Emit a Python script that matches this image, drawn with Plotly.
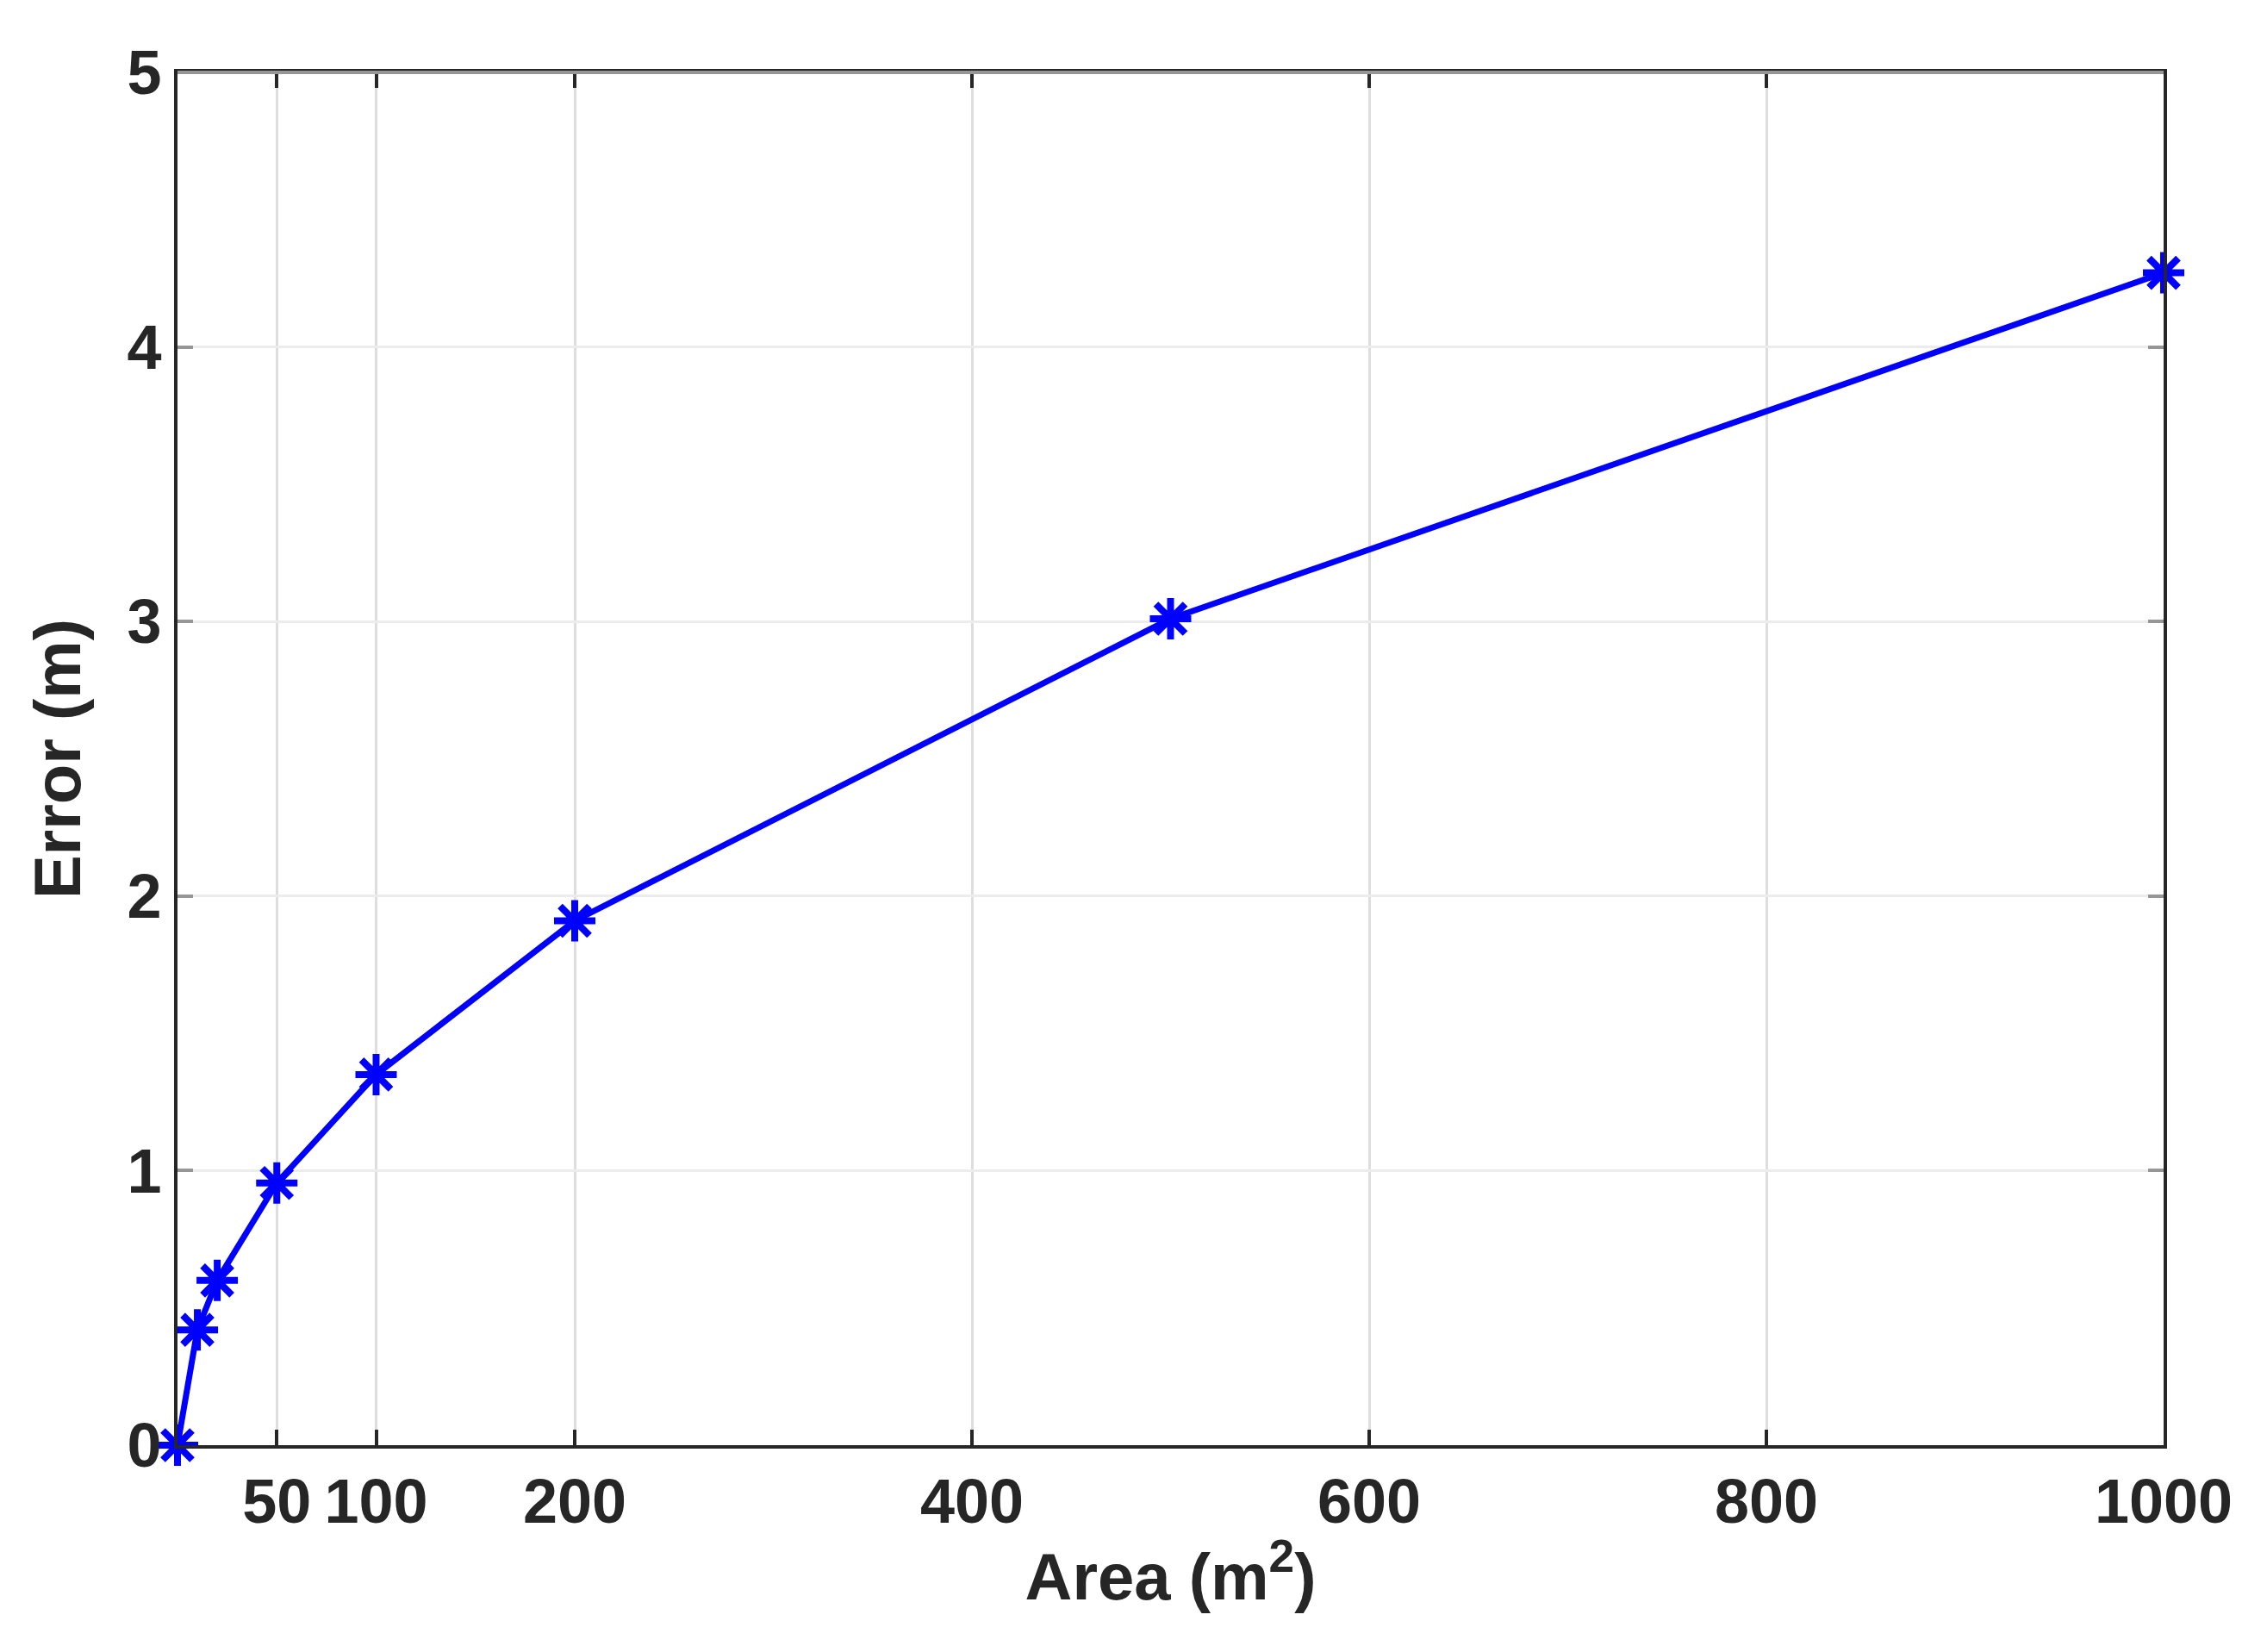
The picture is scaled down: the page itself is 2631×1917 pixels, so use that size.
import plotly.graph_objects as go

# Data
area = [0, 10, 20, 50, 100, 200, 500, 1000]          # m^2
error = [0, 0.42, 0.6, 0.955, 1.35, 1.91, 3.01, 4.27]  # m

x_ticks = [50, 100, 200, 400, 600, 800, 1000]
y_ticks = [0, 1, 2, 3, 4, 5]


def viz_error(x, y,
              xlabel='Area (m<sup>2</sup>)',
              ylabel='Error (m)',
              line_color='#0000FF'):
    fig = go.Figure(go.Scatter(
        x=x, y=y,
        mode='lines+markers',
        line={"color": line_color, "width": 7},
        marker={"symbol": "asterisk-open", "size": 40,
                "line": {"color": line_color, "width": 8}},
        cliponaxis=False,
    ))

    font = {"family": "Liberation Sans, Arial, sans-serif", "size": 72,
            "color": "#262626", "weight": "bold"}

    fig.update_layout({"width": 2631, "height": 1917,
                       "margin": {"l": 198, "r": 128, "t": 76, "b": 248},
                       "plot_bgcolor": "white",
                       "paper_bgcolor": "white",
                       "showlegend": False,
                       "font": font,
                       "xaxis": {"title": {"text": xlabel, "standoff": 22,
                                           "font": {**font, "size": 76}},
                                 "range": [0, 1000],
                                 "tickvals": x_ticks,
                                 "tickangle": 0,
                                 "ticks": "inside", "ticklen": 18,
                                 "tickwidth": 4, "tickcolor": "#262626",
                                 "showline": True, "linecolor": "#262626",
                                 "linewidth": 4, "mirror": "ticks",
                                 "showgrid": True, "gridcolor": "#dedede",
                                 "gridwidth": 3, "zeroline": False},
                       "yaxis": {"title": {"text": ylabel, "standoff": 30,
                                           "font": {**font, "size": 76}},
                                 "range": [0, 5],
                                 "tickvals": y_ticks,
                                 "ticks": "inside", "ticklen": 18,
                                 "tickwidth": 4, "tickcolor": "#969696",
                                 "showline": True, "linecolor": "#262626",
                                 "linewidth": 4, "mirror": "ticks",
                                 "showgrid": True, "gridcolor": "#ececec",
                                 "gridwidth": 3, "zeroline": False},
                       })

    # top border of the box is lighter than the others
    fig.add_shape(type="line", xref="paper", yref="paper",
                  x0=0, x1=1, y0=1, y1=1,
                  line={"color": "#969696", "width": 4})
    return fig


fig = viz_error(area, error)
fig.write_html("out.html")
